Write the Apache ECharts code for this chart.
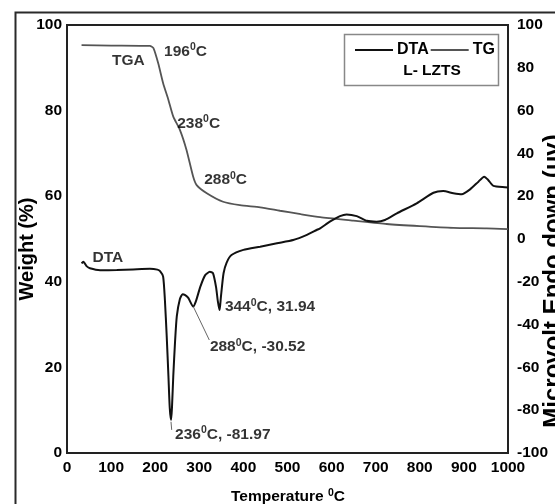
<!DOCTYPE html>
<html>
<head>
<meta charset="utf-8">
<script src="https://cdn.jsdelivr.net/npm/echarts@6/dist/echarts.min.js"></script>
<style>
html,body{margin:0;padding:0;background:#fff;}
#chart{width:555px;height:504px;}
</style>
</head>
<body>
<div id="chart"></div>
<script>
// ---- data ----
const xTicks = [0, 100, 200, 300, 400, 500, 600, 700, 800, 900, 1000];
const leftTicks = [0, 20, 40, 60, 80, 100];
const rightTicks = [-100, -80, -60, -40, -20, 0, 20, 40, 60, 80, 100];

const tgTemp   = [33, 100, 188, 196, 207, 218, 230, 241, 256, 271, 286, 294, 317, 354, 392, 438, 483, 530, 574, 649, 725, 800, 876, 952, 1000];
const tgWeight = [95.3, 95.2, 95.1, 94.6, 91.0, 86.4, 82.5, 78.6, 75.5, 70.8, 64.6, 62.6, 60.7, 58.7, 57.9, 57.4, 56.6, 55.8, 55.1, 54.3, 53.5, 53.0, 52.6, 52.5, 52.3];

const dtaTemp   = [33, 37, 45, 52, 75, 113, 150, 188, 205, 211, 218, 222, 226, 230, 233, 236, 238, 241, 245, 249, 256, 262, 268, 275, 286, 292, 302, 313, 324, 331, 338, 342, 346, 349, 355, 362, 373, 400, 438, 476, 513, 544, 566, 574, 596, 619, 634, 657, 680, 702, 721, 748, 793, 831, 853, 876, 895, 914, 933, 946, 955, 967, 993, 1000];
const dtaSignal = [-11.4, -10.6, -12.8, -13.7, -14.6, -14.5, -14.2, -13.9, -14.3, -15.0, -17.6, -28.5, -45, -64, -79, -84.6, -79, -64, -48, -36, -28, -25.8, -26.2, -27.5, -31.6, -29.3, -22.5, -17.0, -15.3, -16, -22.5, -29, -33.2, -27, -16, -11, -7.5, -5.1, -3.6, -2.0, -0.5, 1.9, 4.2, 5.0, 8.1, 10.7, 11.5, 10.7, 8.5, 8.1, 8.9, 12.0, 16.7, 21.6, 22.4, 21.4, 20.9, 23.2, 26.8, 29.1, 27.6, 24.8, 24.2, 24.1];

// annotations: [main text, superscript, tail]  anchored (left edge) at temp / weight
const annoPre    = ['196', '', '238', '288', '', '344', '288', '236'];
const annoSup    = ['0', '', '0', '0', '', '0', '0', '0'];
const annoPost   = ['C', 'TGA', 'C', 'C', 'DTA', 'C, 31.94', 'C, -30.52', 'C, -81.97'];
const annoTemp   = [220, 102, 250, 311, 58, 358, 324, 245];
const annoWeight = [93.8, 91.7, 77.0, 63.8, 45.6, 34.2, 24.8, 4.3];

// leader lines (temp, weight)
const leaderFrom = [[286.4, 34.2], [235.8, 7.3]];
const leaderTo   = [[322.7, 26.4], [237.4, 5.4]];

const legendNames = ['DTA', 'TG'];
const boxLabel = 'L- LZTS';

// ---- chart ----
const FONT = "'Liberation Sans', Arial, sans-serif";
const INK = '#000';
const chart = echarts.init(document.getElementById('chart'), null, {renderer: 'canvas'});

const tgData = tgTemp.map((t, i) => [t, tgWeight[i]]);
const dtaData = dtaTemp.map((t, i) => [t, dtaSignal[i]]);
const annoData = annoTemp.map((t, i) => ({
  value: [t, annoWeight[i]],
  pre: annoPre[i], sup: annoSup[i], post: annoPost[i]
}));

const textBase = {fontFamily: FONT, fontWeight: 'bold', fontSize: 15.5, color: INK};

option = {
  backgroundColor: '#fff',
  animation: false,
  textStyle: {fontFamily: FONT},
  grid: {left: 67, top: 25, right: 47, bottom: 51, show: true, borderColor: '#222', borderWidth: 2, backgroundColor: 'transparent'},
  legend: {
    data: legendNames,
    left: 350, top: 37,
    icon: 'rect', itemWidth: 38, itemHeight: 2, itemGap: 2,
    textStyle: {fontFamily: FONT, fontWeight: 'bold', fontSize: 16, color: INK, padding: [0, 0, 0, -1]},
    selectedMode: false
  },
  xAxis: {
    type: 'value', min: 0, max: 1000, interval: 100,
    axisLine: {show: true, lineStyle: {color: '#222', width: 2}},
    axisTick: {show: false},
    splitLine: {show: false},
    axisLabel: Object.assign({margin: 7, formatter: v => xTicks.includes(v) ? String(v) : ''}, textBase)
  },
  yAxis: [
    {
      type: 'value', min: 0, max: 100, interval: 20, position: 'left',
      axisLine: {show: true, lineStyle: {color: '#222', width: 2}},
      axisTick: {show: false}, splitLine: {show: false},
      axisLabel: Object.assign({margin: 5, formatter: v => leftTicks.includes(v) ? String(v) : ''}, textBase)
    },
    {
      type: 'value', min: -100, max: 100, interval: 20, position: 'right',
      axisLine: {show: true, lineStyle: {color: '#222', width: 2}},
      axisTick: {show: false}, splitLine: {show: false},
      axisLabel: Object.assign({margin: 9, formatter: v => rightTicks.includes(v) ? String(v) : ''}, textBase)
    }
  ],
  series: [
    {
      name: 'DTA', type: 'line', yAxisIndex: 1, data: dtaData,
      symbol: 'none', smooth: 0.2,
      lineStyle: {color: '#111', width: 2}, itemStyle: {color: '#111'},
      z: 3
    },
    {
      name: 'TG', type: 'line', yAxisIndex: 0, data: tgData,
      symbol: 'none', smooth: 0.2,
      lineStyle: {color: '#555', width: 1.8}, itemStyle: {color: '#555'},
      z: 2
    },
    {
      name: 'notes', type: 'scatter', yAxisIndex: 0, data: annoData,
      symbol: 'circle', symbolSize: 0, silent: true,
      itemStyle: {color: 'transparent'},
      label: {
        show: true, position: 'right', distance: 0,
        formatter: p => {
          const d = p.data;
          return (d.pre ? '{n|' + d.pre + '}' : '') + (d.sup ? '{s|' + d.sup + '}' : '') + '{n|' + d.post + '}';
        },
        rich: {
          n: Object.assign({lineHeight: 19}, textBase),
          s: {fontFamily: FONT, fontWeight: 'bold', fontSize: 10.5, color: INK, verticalAlign: 'top', lineHeight: 10}
        }
      },
      markLine: {
        silent: true, symbol: ['none', 'none'],
        label: {show: false},
        lineStyle: {color: '#666', width: 1, type: 'solid'},
        data: leaderFrom.map((f, i) => [{coord: f}, {coord: leaderTo[i]}])
      },
      z: 4
    }
  ],
  graphic: [
    {type: 'rect', left: 13, top: 10, shape: {x: 0, y: 0, width: 620, height: 620}, style: {fill: 'none', stroke: '#2a2a2a', lineWidth: 2}, silent: true, z: -1},
    {type: 'rect', left: 342, top: 32, shape: {x: 0, y: 0, width: 154, height: 51}, style: {fill: 'none', stroke: '#888', lineWidth: 1.5}, silent: true},
    {type: 'text', x: 432, y: 71, style: {text: boxLabel, fill: INK, font: 'bold 15.5px ' + FONT, textAlign: 'center', textVerticalAlign: 'middle'}, silent: true},
    {type: 'text', x: 27, y: 249, rotation: Math.PI / 2, style: {text: 'Weight (%)', fill: INK, font: 'bold 20px ' + FONT, textAlign: 'center', textVerticalAlign: 'middle'}, silent: true},
    {type: 'text', x: 553, y: 281, rotation: Math.PI / 2, style: {text: 'Microvolt Endo down (μv)', fill: INK, font: 'bold 24px ' + FONT, textAlign: 'center', textVerticalAlign: 'middle'}, silent: true},
    {type: 'text', x: 288, y: 497, style: {text: '{n|Temperature }{s|0}{n|C}', rich: {n: {fill: INK, font: 'bold 15.5px ' + FONT, lineHeight: 19}, s: {fill: INK, font: 'bold 10.5px ' + FONT, verticalAlign: 'top', lineHeight: 10}}, textAlign: 'center', textVerticalAlign: 'middle'}, silent: true}
  ]
};
chart.setOption(option);
</script>
</body>
</html>
